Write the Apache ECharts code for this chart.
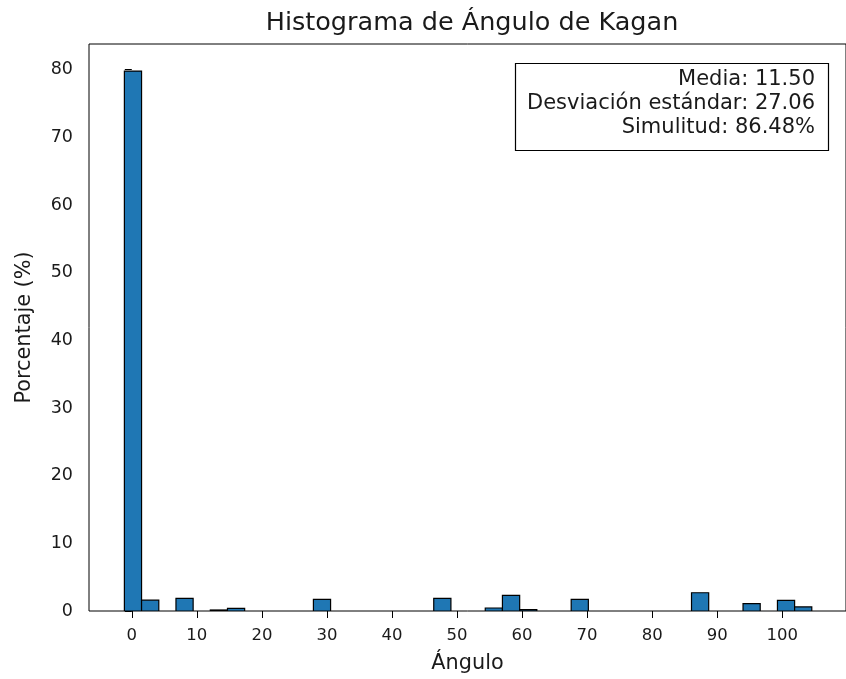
<!DOCTYPE html>
<html>
<head>
<meta charset="utf-8">
<title>Histograma de Ángulo de Kagan</title>
<script src="https://cdn.jsdelivr.net/npm/echarts@6/dist/echarts.min.js"></script>
<style>
  html, body { margin: 0; padding: 0; background: #fff; }
  #chart { width: 846px; height: 679px; }
</style>
</head>
<body>
<div id="chart"></div>
<script>
// Bin edges of the 40-bin histogram (degrees)
const binEdges = [
  -1.14, 1.50, 4.15, 6.79, 9.43, 12.07, 14.71, 17.35, 20.00, 22.64,
  25.28, 27.92, 30.56, 33.21, 35.85, 38.49, 41.13, 43.77, 46.42, 49.06,
  51.70, 54.34, 56.98, 59.63, 62.27, 64.91, 67.55, 70.19, 72.84, 75.48,
  78.12, 80.76, 83.40, 86.05, 88.69, 91.33, 93.97, 96.61, 99.26, 101.90,
  104.54
];
// Percentage of samples in each bin
const binPercent = [
  79.8, 1.6, 0, 1.87, 0, 0.15, 0.4, 0, 0, 0,
  0, 1.72, 0, 0, 0, 0, 0, 0, 1.87, 0,
  0, 0.44, 2.3, 0.2, 0, 0, 1.72, 0, 0, 0,
  0, 0, 0, 2.7, 0, 0, 1.08, 0, 1.57, 0.6
];
const xTicks = [0, 10, 20, 30, 40, 50, 60, 70, 80, 90, 100];
const yTicks = [0, 10, 20, 30, 40, 50, 60, 70, 80];
const statsLines = [
  'Media: 11.50',
  'Desviación estándar: 27.06',
  'Simulitud: 86.48%'
];

const FONT = '"DejaVu Sans", "Liberation Sans", sans-serif';
const TEXT = '#1a1a1a';

const barData = [];
for (let i = 0; i < binPercent.length; i++) {
  if (binPercent[i] > 0) barData.push([binEdges[i], binEdges[i + 1], binPercent[i]]);
}

const chart = echarts.init(document.getElementById('chart'), null, { renderer: 'canvas' });

chart.setOption({
  animation: false,
  backgroundColor: '#fff',
  grid: {
    left: 89, top: 44, bottom: 67, right: -11,
    show: true, borderColor: '#000', borderWidth: 1, backgroundColor: 'transparent'
  },
  xAxis: {
    type: 'value',
    min: -6.58, max: 109.8,
    splitLine: { show: false },
    axisLine: { show: false },
    axisTick: { show: true, length: 7, lineStyle: { color: '#000', width: 1 }, customValues: xTicks },
    axisLabel: { customValues: xTicks, color: TEXT, fontFamily: FONT, fontSize: 16.5, margin: 16 },
    name: 'Ángulo',
    nameLocation: 'middle',
    nameGap: 42,
    nameTextStyle: { color: TEXT, fontFamily: FONT, fontSize: 20.8 }
  },
  yAxis: {
    type: 'value',
    min: 0, max: 83.8,
    splitLine: { show: false },
    axisLine: { show: false },
    axisTick: { show: true, length: 7, lineStyle: { color: '#000', width: 1 }, customValues: yTicks },
    axisLabel: { customValues: yTicks, color: TEXT, fontFamily: FONT, fontSize: 17.5, margin: 16 },
    name: 'Porcentaje (%)',
    nameLocation: 'middle',
    nameGap: 54,
    nameRotate: 90,
    nameTextStyle: { color: TEXT, fontFamily: FONT, fontSize: 20.8 }
  },
  series: [{
    type: 'custom',
    clip: true,
    data: barData,
    encode: { x: [0, 1], y: 2 },
    renderItem: function (params, api) {
      const p0 = api.coord([api.value(0), 0]);
      const p1 = api.coord([api.value(1), api.value(2)]);
      return {
        type: 'rect',
        shape: { x: p0[0], y: p1[1], width: p1[0] - p0[0], height: p0[1] - p1[1] },
        style: { fill: '#1f77b4', stroke: '#000', lineWidth: 1.2 }
      };
    }
  }],
  graphic: [
    {
      type: 'text',
      x: 472, y: 23,
      style: {
        text: 'Histograma de Ángulo de Kagan',
        fill: TEXT, font: '25.5px ' + FONT,
        align: 'center', verticalAlign: 'middle'
      }
    },
    {
      type: 'rect',
      shape: { x: 515.5, y: 63.5, width: 313, height: 87 },
      style: { fill: '#fff', stroke: '#000', lineWidth: 1.2 },
      z: 10
    },
    {
      type: 'text',
      x: 815, y: 68,
      z: 11,
      style: {
        text: statsLines.join('\n'),
        fill: TEXT, font: '21px ' + FONT,
        align: 'right', verticalAlign: 'top', lineHeight: 24
      }
    }
  ]
});
</script>
</body>
</html>
